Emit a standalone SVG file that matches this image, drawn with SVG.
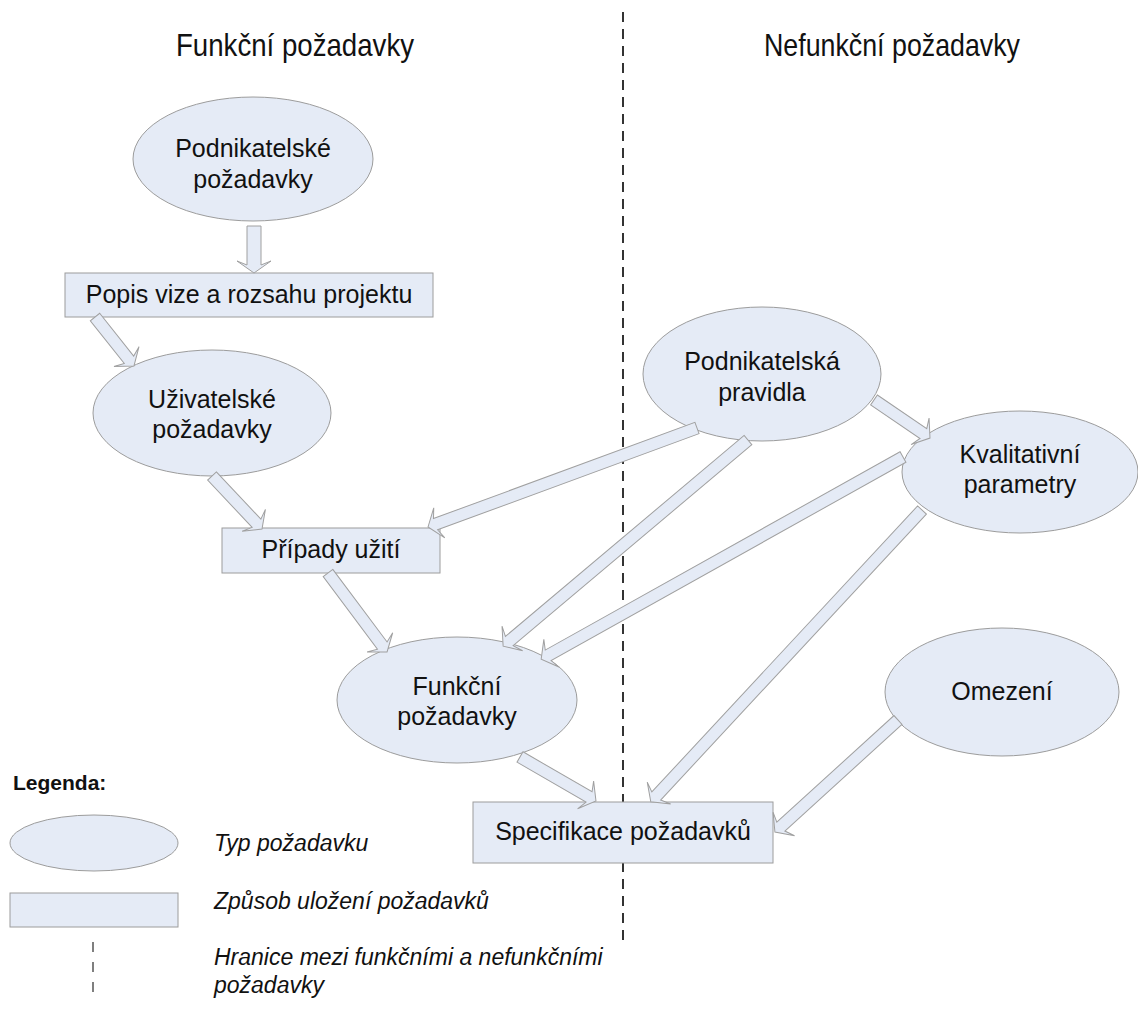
<svg xmlns="http://www.w3.org/2000/svg" width="1138" height="1013" viewBox="0 0 1138 1013">
<style>
.n{fill:#e5ebf6;stroke:#9c9c9c;stroke-width:1}
.a{fill:#e5ebf6;stroke:#a0a0a0;stroke-width:1;stroke-linejoin:miter}
.t{font-family:"Liberation Sans",Arial,sans-serif;font-size:25px;fill:#111;text-anchor:middle}
.h{font-family:"Liberation Sans",Arial,sans-serif;font-size:32px;fill:#111}
.l{font-family:"Liberation Sans",Arial,sans-serif;font-size:23px;font-style:italic;fill:#111}
</style>
<rect width="1138" height="1013" fill="#fff"/>
<g id="headers">
<text class="h" x="176" y="56" textLength="238" lengthAdjust="spacingAndGlyphs">Funkční požadavky</text>
<text class="h" x="764" y="56" textLength="256" lengthAdjust="spacingAndGlyphs">Nefunkční požadavky</text>
</g>
<line id="divider" x1="623" y1="12" x2="623" y2="940" stroke="#333" stroke-width="2" stroke-dasharray="10,7"/>
<g id="n-podnikatelske-pozadavky"><ellipse class="n" cx="253" cy="159" rx="120" ry="62"/><text class="t" x="253" y="157">Podnikatelské</text><text class="t" x="253" y="188">požadavky</text></g>
<g id="n-popis"><rect class="n" x="65" y="273" width="368" height="44"/><text class="t" x="249" y="303">Popis vize a rozsahu projektu</text></g>
<g id="n-uzivatelske"><ellipse class="n" cx="212" cy="413" rx="119" ry="63"/><text class="t" x="212" y="408">Uživatelské</text><text class="t" x="212" y="438">požadavky</text></g>
<g id="n-pripady"><rect class="n" x="222" y="528" width="218" height="45"/><text class="t" x="331" y="558">Případy užití</text></g>
<g id="n-funkcni"><ellipse class="n" cx="457" cy="700" rx="120" ry="63"/><text class="t" x="457" y="695">Funkční</text><text class="t" x="457" y="725">požadavky</text></g>
<g id="n-specifikace"><rect class="n" x="473" y="802" width="300" height="61"/><text class="t" x="623" y="840">Specifikace požadavků</text></g>
<g id="n-pravidla"><ellipse class="n" cx="762" cy="374" rx="119" ry="67"/><text class="t" x="762" y="370">Podnikatelská</text><text class="t" x="762" y="401">pravidla</text></g>
<g id="n-kvalitativni"><ellipse class="n" cx="1020" cy="472" rx="118" ry="61"/><text class="t" x="1020" y="463">Kvalitativní</text><text class="t" x="1020" y="493">parametry</text></g>
<g id="n-omezeni"><ellipse class="n" cx="1002" cy="692" rx="117" ry="64"/><text class="t" x="1002" y="700">Omezení</text></g>
<g id="connectors">
<polygon class="a" transform="translate(254,226) rotate(90)" points="0,-7 39,-7 35,-17 47,0 35,17 39,7 0,7"/>
<polygon class="a" transform="translate(95,317) rotate(51.5)" points="0,-6 54.6,-6 50.6,-16 62.6,0 50.6,16 54.6,6 0,6"/>
<polygon class="a" transform="translate(212,476) rotate(46.7)" points="0,-6 64.9,-6 60.9,-16 72.9,0 60.9,16 64.9,6 0,6"/>
<polygon class="a" transform="translate(328,573) rotate(53.2)" points="0,-6 90.6,-6 86.6,-16 98.6,0 86.6,16 90.6,6 0,6"/>
<polygon class="a" transform="translate(697,428) rotate(159.8)" points="0,-6 278.6,-6 274.6,-16 286.6,0 274.6,16 278.6,6 0,6"/>
<polygon class="a" transform="translate(748,440) rotate(139.9)" points="0,-6 312.1,-6 308.1,-16 320.1,0 308.1,16 312.1,6 0,6"/>
<polygon class="a" transform="translate(874,400) rotate(34.2)" points="0,-6 59.7,-6 55.7,-16 67.7,0 55.7,16 59.7,6 0,6"/>
<polygon class="a" transform="translate(903,457) rotate(150.8)" points="0,-6 406.5,-6 402.5,-16 414.5,0 402.5,16 406.5,6 0,6"/>
<polygon class="a" transform="translate(922,510) rotate(132.9)" points="0,-6 390.4,-6 386.4,-16 398.4,0 386.4,16 390.4,6 0,6"/>
<polygon class="a" transform="translate(520,757) rotate(30.07)" points="0,-6 79.8,-6 75.8,-16 87.8,0 75.8,16 79.8,6 0,6"/>
<polygon class="a" transform="translate(898,720) rotate(137.7)" points="0,-6 158.4,-6 154.4,-16 166.4,0 154.4,16 158.4,6 0,6"/>
</g>
<g id="legend">
<text x="13" y="790" font-family="Liberation Sans, Arial, sans-serif" font-size="21" font-weight="bold" fill="#111">Legenda:</text>
<ellipse class="n" cx="94" cy="843" rx="84" ry="28"/>
<text class="l" x="214" y="851">Typ požadavku</text>
<rect class="n" x="10" y="893" width="168" height="34"/>
<text class="l" x="214" y="909">Způsob uložení požadavků</text>
<line x1="93" y1="942" x2="93" y2="1002" stroke="#555" stroke-width="1.5" stroke-dasharray="10,10"/>
<text class="l" x="214" y="965">Hranice mezi funkčními a nefunkčními</text>
<text class="l" x="214" y="993">požadavky</text>
</g>
</svg>
